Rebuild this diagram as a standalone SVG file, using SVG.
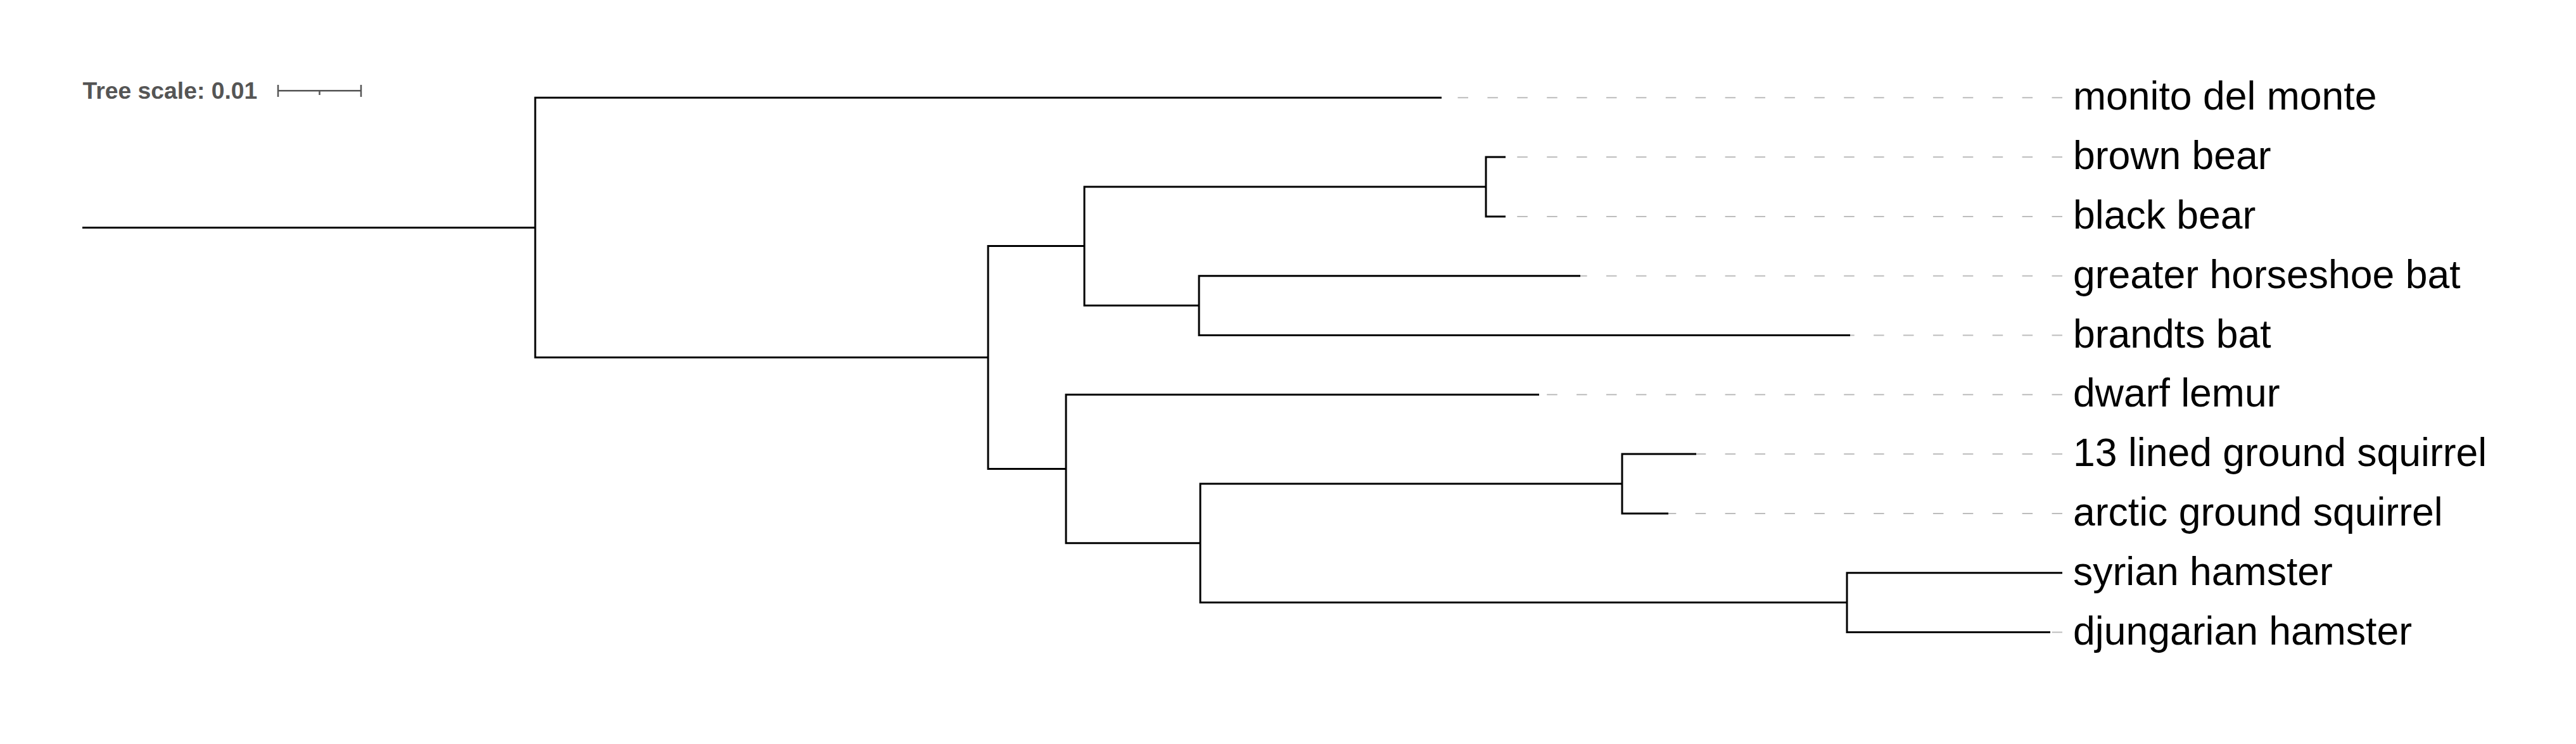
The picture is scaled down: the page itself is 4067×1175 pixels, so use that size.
<svg xmlns="http://www.w3.org/2000/svg" width="4067" height="1175" viewBox="0 0 4067 1175">
<style>
.br{fill:none;stroke:#000;stroke-width:3;stroke-linecap:butt;stroke-linejoin:miter}
.gd{fill:none;stroke:#bdbdbd;stroke-width:2;stroke-dasharray:16.5 30.4}
.lb{font-family:"Liberation Sans",Arial,sans-serif;font-size:62.5px;fill:#000}
.sc{font-family:"Liberation Sans",Arial,sans-serif;font-size:37.3px;font-weight:bold;fill:#555}
.sb{fill:none;stroke:#555;stroke-width:2.5}
</style>
<rect width="4067" height="1175" fill="#fff"/>
<g id="scale">
<text class="sc" x="130.5" y="156">Tree scale: 0.01</text>
<path class="sb" d="M439 143.3H570M439 134V153M570 134V153M504.5 143.3V150"/>
</g>
<g id="connectors">
<path class="br" d="M130 359.6H845"/>
<path class="br" d="M2276 154.3H845V564.4H1560"/>
<path class="br" d="M1712 388.4H1560V740.5H1683"/>
<path class="br" d="M2346 295H1712V482.6H1893"/>
<path class="br" d="M2377 248.1H2346V341.9H2377"/>
<path class="br" d="M2495 435.7H1893V529.5H2921"/>
<path class="br" d="M2430 623.3H1683V857.75H1895"/>
<path class="br" d="M2561 764H1895V951.6H2916"/>
<path class="br" d="M2678 717.1H2561V810.9H2634"/>
<path class="br" d="M3256 904.7H2916V998.5H3237"/>
<g id="guides">
<path class="gd" d="M3256 154.3H2276"/>
<path class="gd" d="M3256 248.1H2377"/>
<path class="gd" d="M3256 341.9H2377"/>
<path class="gd" d="M3256 435.7H2495"/>
<path class="gd" d="M3256 529.5H2921"/>
<path class="gd" d="M3256 623.3H2430"/>
<path class="gd" d="M3256 717.1H2678"/>
<path class="gd" d="M3256 810.9H2634"/>
<path class="gd" d="M3256 998.5H3237"/>
</g>
</g>
<g id="leaf-monito-del-monte"><text class="lb" x="3273" y="173.3">monito del monte</text></g>
<g id="leaf-brown-bear"><text class="lb" x="3273" y="267.1">brown bear</text></g>
<g id="leaf-black-bear"><text class="lb" x="3273" y="360.9">black bear</text></g>
<g id="leaf-greater-horseshoe-bat"><text class="lb" x="3273" y="454.7">greater horseshoe bat</text></g>
<g id="leaf-brandts-bat"><text class="lb" x="3273" y="548.5">brandts bat</text></g>
<g id="leaf-dwarf-lemur"><text class="lb" x="3273" y="642.3">dwarf lemur</text></g>
<g id="leaf-13-lined-ground-squirrel"><text class="lb" x="3273" y="736.1">13 lined ground squirrel</text></g>
<g id="leaf-arctic-ground-squirrel"><text class="lb" x="3273" y="829.9">arctic ground squirrel</text></g>
<g id="leaf-syrian-hamster"><text class="lb" x="3273" y="923.7">syrian hamster</text></g>
<g id="leaf-djungarian-hamster"><text class="lb" x="3273" y="1017.5">djungarian hamster</text></g>
</svg>
